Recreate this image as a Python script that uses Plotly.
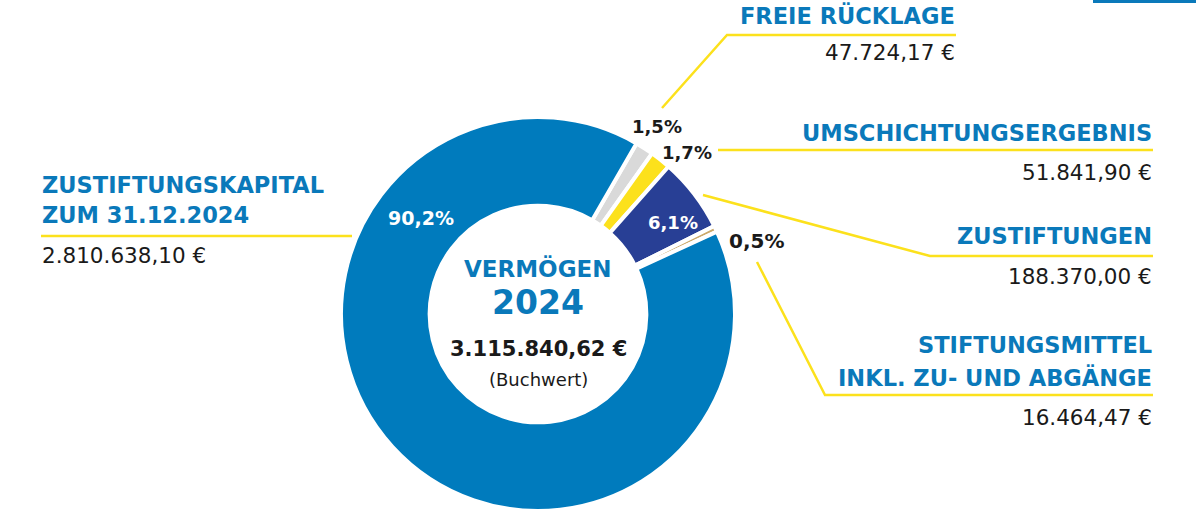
import plotly.graph_objects as go

# ---- data ----
categories = ["FREIE RÜCKLAGE", "UMSCHICHTUNGSERGEBNIS", "ZUSTIFTUNGEN",
              "STIFTUNGSMITTEL<br>INKL. ZU- UND ABGÄNGE", "ZUSTIFTUNGSKAPITAL<br>ZUM 31.12.2024"]
percent_values = [1.5, 1.7, 6.1, 0.5, 90.2]
amount_labels = ["47.724,17 €", "51.841,90 €", "188.370,00 €", "16.464,47 €", "2.810.638,10 €"]
slice_colors = ["#D9D9D9", "#FCE11C", "#283F95", "#CBA86A", "#007BBD"]
total_label = "3.115.840,62 €"
center_title = "VERMÖGEN"
center_year = "2024"
center_note = "(Buchwert)"

W, H = 1196, 511
BLUE_TXT = "#0A79BA"
YEL = "#FCE11C"
DARK = "#1a1a1a"
FONT = "DejaVu Sans"

cx, cy, r = 538, 314, 197

fig = go.Figure()
fig.add_trace(go.Pie(
    values=percent_values,
    labels=categories,
    sort=False,
    direction="clockwise",
    rotation=30,
    hole=0.55,
    marker=dict(colors=slice_colors, line=dict(color="white", width=4)),
    textinfo="none",
    domain=dict(x=[(cx - r) / W, (cx + r) / W], y=[0, 2 * r / H]),
    showlegend=False,
    hoverinfo="skip",
))

def px(x):
    return x / W

def py(y):
    return 1 - y / H

ann = []
def text(x, y, s, size, color, bold, anchor="right"):
    ann.append(dict(x=px(x), y=py(y), xref="paper", yref="paper", text=s, showarrow=False,
                    xanchor=anchor, yanchor="middle", align=anchor, borderpad=0,
                    font=dict(family=FONT, size=size, color=color,
                              weight="bold" if bold else "normal")))

def pct(v):
    return f"{v:.1f}".replace(".", ",") + "%"

# percentage labels
text(657, 126, pct(percent_values[0]), 18, DARK, True, "center")
text(687, 153, pct(percent_values[1]), 18, DARK, True, "center")
text(673, 222, pct(percent_values[2]), 18, "white", True, "center")
text(756, 241, pct(percent_values[3]), 20, DARK, True, "center")
text(421, 218, pct(percent_values[4]), 19, "white", True, "center")

# center text
text(cx, 268, center_title, 23, BLUE_TXT, True, "center")
text(cx, 302, center_year, 33, BLUE_TXT, True, "center")
text(cx, 349, total_label, 21, DARK, True, "center")
text(cx, 379, center_note, 18, DARK, False, "center")

TS, VS = 22.5, 21.5
# right side labels
text(956, 15, categories[0], TS, BLUE_TXT, True)
text(956, 53, amount_labels[0], VS, DARK, False)
text(1153, 133, categories[1], TS, BLUE_TXT, True)
text(1153, 173, amount_labels[1], VS, DARK, False)
text(1153, 236, categories[2], TS, BLUE_TXT, True)
text(1153, 276, amount_labels[2], VS, DARK, False)
l1, l2 = categories[3].split("<br>")
text(1153, 345, l1, TS, BLUE_TXT, True)
text(1153, 377, l2, TS, BLUE_TXT, True)
text(1153, 417, amount_labels[3], VS, DARK, False)
# left label
k1, k2 = categories[4].split("<br>")
text(41, 185, k1, TS, BLUE_TXT, True, "left")
text(41, 215, k2, TS, BLUE_TXT, True, "left")
text(41, 255, amount_labels[4], VS, DARK, False, "left")

shapes = []
def line(pts):
    path = "M " + " L ".join(f"{px(x)},{py(y)}" for x, y in pts)
    shapes.append(dict(type="path", path=path, xref="paper", yref="paper",
                       line=dict(color=YEL, width=2.5)))

line([(662, 108), (727, 35), (956, 35)])
line([(718, 150), (1153, 150)])
line([(703, 195), (930, 256), (1153, 256)])
line([(757, 262), (825, 395), (1153, 395)])
line([(41, 236), (352, 236)])

# top-right tab
shapes.append(dict(type="rect", xref="paper", yref="paper", x0=px(1093), x1=px(1196),
                   y0=py(3), y1=py(0), fillcolor="#0A79BA", line=dict(width=0)))

fig.update_layout(
    width=W, height=H,
    margin=dict(l=0, r=0, t=0, b=0),
    paper_bgcolor="white", plot_bgcolor="white",
    separators=",.",
    annotations=ann, shapes=shapes,
)

fig.write_html("out.html", config={"displayModeBar": False},
               post_script="document.body.style.margin='0';")
